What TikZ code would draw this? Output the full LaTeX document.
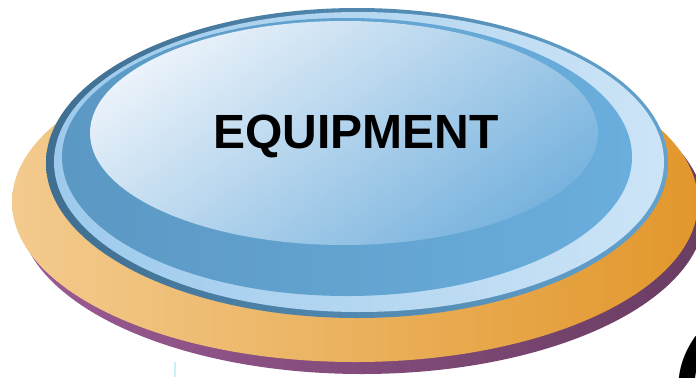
\documentclass[tikz,border=0pt]{standalone}
\usepackage{fontspec}
\setmainfont{Liberation Sans}
\definecolor{plumL}{HTML}{9A5A93}
\definecolor{plumR}{HTML}{6A3D62}
\definecolor{orangeL}{HTML}{F3CB8E}
\definecolor{orangeR}{HTML}{E2972C}
\definecolor{rimL}{HTML}{3F6E90}
\definecolor{rimR}{HTML}{62A2CE}
\definecolor{ringL}{HTML}{9DCAEC}
\definecolor{ringR}{HTML}{CCE4F6}
\definecolor{bandL}{HTML}{5B98C4}
\definecolor{bandR}{HTML}{6AAEDD}
\definecolor{topL}{HTML}{EAF2FA}
\definecolor{topR}{HTML}{78B3DE}
\begin{document}
\begin{tikzpicture}[x=0.5pt, y=0.5pt]
    \useasboundingbox (0,0) rectangle (696,377);
    % shadow under the base
    \shade[left color=plumL, right color=plumR] (362,165) ellipse (343 and 162);
    % orange base
    \shade[left color=orangeL, right color=orangeR] (355,175) ellipse (343 and 160);
    % blue disc: rim, ring, band
    \shade[left color=rimL, right color=rimR] (357,214) ellipse (311 and 155);
    \shade[left color=ringL, right color=ringR] (359,215) ellipse (305 and 150);
    \shade[left color=bandL, right color=bandR] (347,220) ellipse (285 and 139);
    % top face
    \shade[top color=topL, bottom color=topR, shading angle=35] (344,244) ellipse (254 and 112);
    \node[font=\fontsize{24}{28}\selectfont\bfseries] (label) at (356,241) {EQUIPMENT};
    % cut pieces at the lower edge
    \coordinate (stubtop) at (175,15);
    \coordinate (stubend) at (175,0);
    \draw[color=cyan!20, line width=1pt] (stubtop) -- (stubend);
    \node[font=\fontsize{60}{60}\selectfont\bfseries, anchor=west, inner sep=0pt] (paren) at (672,-15) {(};
  \end{tikzpicture}
\end{document}
